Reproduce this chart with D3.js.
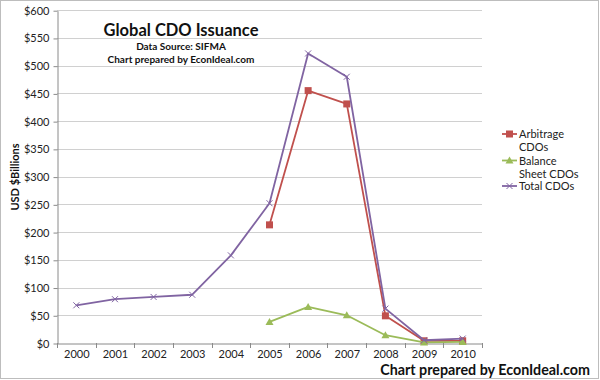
<!DOCTYPE html>
<html><head><meta charset="utf-8">
<script src="https://cdn.jsdelivr.net/npm/d3@7"></script>
<style>body{margin:0;background:#fff}svg{display:block;font-family:Lato,"Open Sans",sans-serif}</style>
</head><body><svg id="c" width="600" height="380"></svg>
<script>
const years = ["2000","2001","2002","2003","2004","2005","2006","2007","2008","2009","2010"];
const arbitrage = [null,null,null,null,null,213,455,431,49,4,4];
const balance = [null,null,null,null,null,38,65,50,14,1,2];
const total = [68,79,83,87,158,252,522,480,62,5,8];
const yTicks = [0,50,100,150,200,250,300,350,400,450,500,550,600];
const seriesNames = ["Arbitrage CDOs","Balance Sheet CDOs","Total CDOs"];

const svg = d3.select("#c");
svg.append("rect").attr("x",0.5).attr("y",0.5).attr("width",598).attr("height",378).attr("fill","#fff").attr("stroke","#bdbdbd");

const x = d3.scaleBand().domain(years).range([57,482]);
const y = d3.scaleLinear().domain([0,600]).range([343,10.2]);

// gridlines
svg.append("g").selectAll("line").data(yTicks.slice(1)).join("line")
  .attr("x1",57).attr("x2",482).attr("y1",d=>Math.round(y(d))+0.5).attr("y2",d=>Math.round(y(d))+0.5)
  .attr("stroke","#d0d0d0").attr("stroke-width",1);

const yAxis = svg.append("g").attr("transform","translate(57.5,0.5)")
  .call(d3.axisLeft(y).tickValues(yTicks).tickFormat(d=>"$"+d).tickSize(4).tickSizeOuter(0));
yAxis.select(".domain").attr("stroke","#8a8a8a");
yAxis.selectAll(".tick line").attr("stroke","#8a8a8a");
yAxis.selectAll("text").attr("font-size",11).attr("fill","#222").attr("font-family","Lato,'Open Sans',sans-serif").attr("dx",-1);

const xAxis = svg.append("g").attr("transform","translate(0.5,343.5)")
  .call(d3.axisBottom(x).tickSize(0).tickSizeOuter(0));
xAxis.select(".domain").attr("stroke","#8a8a8a");
xAxis.selectAll("text").attr("font-size",11).attr("fill","#222").attr("dy","1.05em").attr("font-family","Lato,'Open Sans',sans-serif");
// boundary ticks
svg.append("g").selectAll("line").data(years.concat(["end"])).join("line")
  .attr("x1",(d,i)=>Math.round(57+i*x.step())+0.5).attr("x2",(d,i)=>Math.round(57+i*x.step())+0.5)
  .attr("y1",343).attr("y2",348).attr("stroke","#8a8a8a");

const cx = d=>x(d)+x.bandwidth()/2;
const colors = ["#C0504D","#9BBB59","#8064A2"];
const data = [arbitrage,balance,total];

const line = d3.line().defined(d=>d.v!=null).x(d=>cx(d.yr)).y(d=>y(d.v));
data.forEach((arr,si)=>{
  const pts = years.map((yr,i)=>({yr,v:arr[i]}));
  svg.append("path").datum(pts).attr("d",line).attr("fill","none").attr("stroke",colors[si]).attr("stroke-width",1.8).attr("stroke-linejoin","round");
  const g = svg.append("g");
  pts.filter(p=>p.v!=null).forEach(p=>drawMarker(g,si,cx(p.yr),y(p.v)));
});

function drawMarker(g,si,px,py){
  if(si===0){
    g.append("rect").attr("x",px-3.5).attr("y",py-3.5).attr("width",7).attr("height",7).attr("fill",colors[0]);
  } else if(si===1){
    g.append("path").attr("d",`M${px},${py-4}L${px+4},${py+3}L${px-4},${py+3}Z`).attr("fill",colors[1]);
  } else {
    g.append("path").attr("d",`M${px-3},${py-3}L${px+3},${py+3}M${px+3},${py-3}L${px-3},${py+3}`).attr("stroke",colors[2]).attr("stroke-width",1);
  }
}

// legend
const leg = [{lines:["Arbitrage","CDOs"],y:134},{lines:["Balance","Sheet CDOs"],y:160.5},{lines:["Total CDOs"],y:186}];
leg.forEach((l,i)=>{
  svg.append("line").attr("x1",502).attr("x2",517).attr("y1",l.y).attr("y2",l.y).attr("stroke",colors[i]).attr("stroke-width",1.8);
  drawMarker(svg,i,509.5,l.y);
  l.lines.forEach((t,j)=>{
    svg.append("text").attr("x",519).attr("y",l.y+4+j*13).attr("font-size",11).attr("fill","#222").text(t);
  });
});

// titles
svg.append("text").attr("x",181).attr("y",36).attr("text-anchor","middle").attr("font-size",16.5).attr("font-weight","bold").attr("fill","#111").text("Global CDO Issuance");
svg.append("text").attr("x",181).attr("y",50).attr("text-anchor","middle").attr("font-size",10).attr("font-weight","bold").attr("fill","#111").text("Data Source: SIFMA");
svg.append("text").attr("x",181).attr("y",63).attr("text-anchor","middle").attr("font-size",10).attr("font-weight","bold").attr("fill","#111").text("Chart prepared by EconIdeal.com");
svg.append("text").attr("transform","translate(19,177) rotate(-90)").attr("text-anchor","middle").attr("font-size",11).attr("font-weight","bold").attr("fill","#111").text("USD $Billions");
svg.append("text").attr("x",590).attr("y",375).attr("text-anchor","end").attr("font-size",14.3).attr("font-weight","bold").attr("fill","#111").text("Chart prepared by EconIdeal.com");
</script></body></html>
